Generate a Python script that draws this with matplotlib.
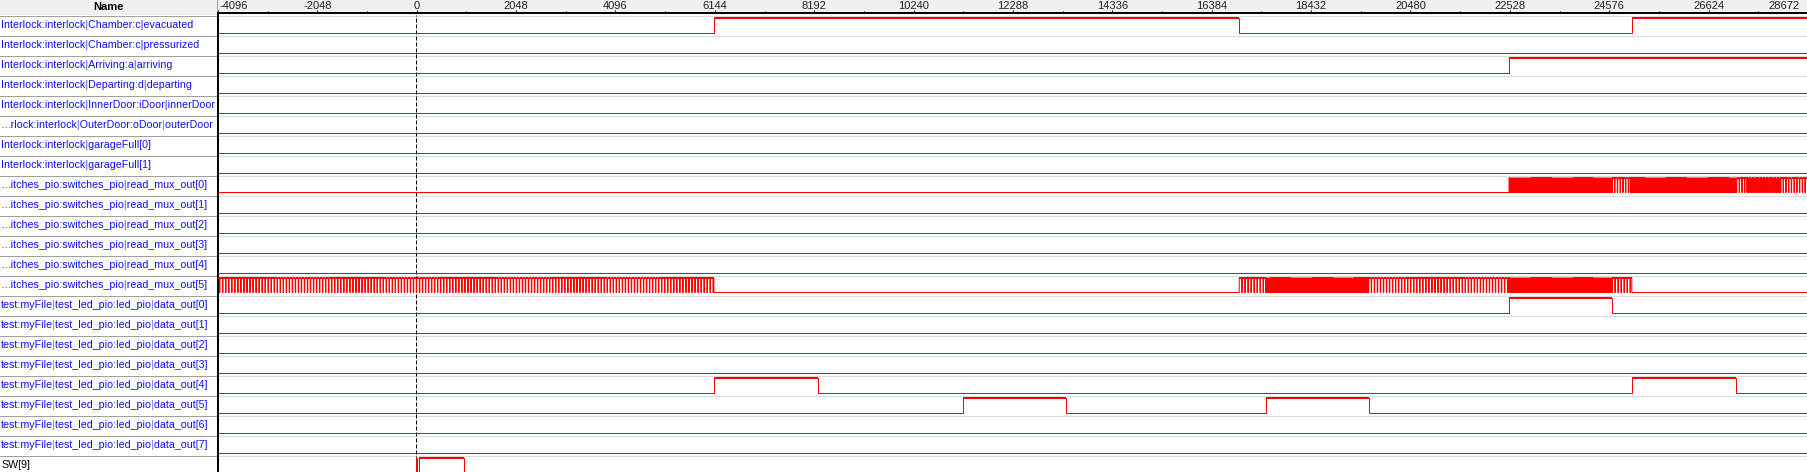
import re
import matplotlib
matplotlib.use("Agg")
import matplotlib.pyplot as plt
from matplotlib.font_manager import FontProperties
from matplotlib.patches import Rectangle
from matplotlib.transforms import IdentityTransform
import numpy as np

plt.rcParams["font.family"] = ["Liberation Sans", "DejaVu Sans"]

W_PX, H_PX, DPI = 1808, 472, 100
PX = 72 / DPI                      # one pixel in points
RED = "#FF0000"; BLUE = "#1010F0"; PIPE = "#9C9CF8"; BLACK = "#000000"
HEADER = "#F0F0F0"; GRID = "#DCDCDC"; NAME_GRID = "#A0A0A0"
LABEL_SIZE = 7.65

# ---- data -----------------------------------------------------------------
NAMES = [
    "Interlock:interlock|Chamber:c|evacuated",
    "Interlock:interlock|Chamber:c|pressurized",
    "Interlock:interlock|Arriving:a|arriving",
    "Interlock:interlock|Departing:d|departing",
    "Interlock:interlock|InnerDoor:iDoor|innerDoor",
    "\u2026rlock:interlock|OuterDoor:oDoor|outerDoor",
    "Interlock:interlock|garageFull[0]",
    "Interlock:interlock|garageFull[1]",
    "\u2026itches_pio:switches_pio|read_mux_out[0]",
    "\u2026itches_pio:switches_pio|read_mux_out[1]",
    "\u2026itches_pio:switches_pio|read_mux_out[2]",
    "\u2026itches_pio:switches_pio|read_mux_out[3]",
    "\u2026itches_pio:switches_pio|read_mux_out[4]",
    "\u2026itches_pio:switches_pio|read_mux_out[5]",
    "test:myFile|test_led_pio:led_pio|data_out[0]",
    "test:myFile|test_led_pio:led_pio|data_out[1]",
    "test:myFile|test_led_pio:led_pio|data_out[2]",
    "test:myFile|test_led_pio:led_pio|data_out[3]",
    "test:myFile|test_led_pio:led_pio|data_out[4]",
    "test:myFile|test_led_pio:led_pio|data_out[5]",
    "test:myFile|test_led_pio:led_pio|data_out[6]",
    "test:myFile|test_led_pio:led_pio|data_out[7]",
    "SW[9]",
]
PIN_ROWS = [22]                    # drawn in black, not node-blue

# toggle times (samples); every signal starts low
EVACUATED = [6100, 16860, 24900]
ARRIVING = [22385]
LED0 = [22385, 24500]
LED4 = [6100, 8230, 24900, 27030]
LED5 = [11200, 13310, 17400, 19510]
SW9 = [0, 30, 70, 983]
TOGGLES = {0: EVACUATED, 2: ARRIVING, 14: LED0, 18: LED4, 19: LED5, 22: SW9}

# (start, end, period) of the fast-toggling mux bursts
MUX0_BURSTS = [(22385, 24500, 20), (24500, 24870, 56), (24870, 27050, 20),
               (27050, 27260, 56), (27260, 27950, 32), (27950, 28700, 56)]
MUX5_BURSTS = [(-4200, 6100, 62), (16860, 17400, 62), (17400, 19510, 20),
               (19510, 22385, 62), (22385, 24500, 20), (24500, 24900, 62)]
BURSTS = {8: MUX0_BURSTS, 13: MUX5_BURSTS}
LOW_WIDTH = 10

MAJOR = np.arange(-4096, 28673, 2048)
MINOR = np.arange(-4096, 28673, 1024)
XLIM = (-4055, 28508)
T_START, T_END = -4200, 28700

ROW_H = 20                          # px per signal row
TOP_PX = 15                         # header height
HIGH, LOW = 0.15, 0.875             # levels within a row (row units)


def fx(px):
    return px / W_PX


def fy(px):
    return px / H_PX


def high_intervals(row):
    if row in TOGGLES:
        e = list(TOGGLES[row])
        if len(e) % 2:
            e.append(T_END)
        return list(zip(e[0::2], e[1::2]))
    out = []
    for a, b, p in BURSTS.get(row, []):
        for s in np.arange(a, b, p):
            out.append((s, min(s + p - LOW_WIDTH, b)))
    return out


fig = plt.figure(figsize=(W_PX / DPI, H_PX / DPI), dpi=DPI)
fig.patch.set_facecolor("white")
renderer = fig.canvas.get_renderer()
fp = FontProperties(family=["Liberation Sans"], size=LABEL_SIZE)
n_vis = (H_PX - TOP_PX) / ROW_H


def text_px(s):
    w, _, _ = renderer.get_text_width_height_descent(s, fp, ismath=False)
    return w


# name header
ax_nh = fig.add_axes([0, 1 - fy(TOP_PX), fx(217), fy(TOP_PX)])
ax_nh.set_facecolor(HEADER)
ax_nh.set_xticks([]); ax_nh.set_yticks([])
for k, s in ax_nh.spines.items():
    s.set_visible(k == "right")
ax_nh.spines["right"].set_color(NAME_GRID); ax_nh.spines["right"].set_linewidth(PX)
ax_nh.text(0.5, 0.5, "Name", ha="center", va="center", fontsize=8, fontweight="bold")

# time-axis header
ax_h = fig.add_axes([fx(218), 1 - fy(13), fx(W_PX - 218), fy(13)])
ax_h.set_facecolor(HEADER)
ax_h.set_xlim(XLIM); ax_h.set_ylim(0, 1)
for k in ("top", "left", "right"):
    ax_h.spines[k].set_visible(False)
ax_h.spines["bottom"].set_linewidth(2 * PX)
ax_h.set_xticks(MAJOR); ax_h.set_xticks(MINOR, minor=True); ax_h.set_yticks([])
ax_h.tick_params(axis="x", which="major", direction="in", length=3 * PX, width=PX,
                 labelbottom=False)
ax_h.tick_params(axis="x", which="minor", direction="in", length=2 * PX, width=PX)
for t in MAJOR:
    if t < XLIM[0]:
        x, ha = XLIM[0], "left"
    elif t > XLIM[1]:
        x, ha = XLIM[1], "right"
    else:
        x, ha = t, "center"
    ax_h.text(x, 0.3, str(t), ha=ha, va="baseline", fontsize=8, color="#202020")

# name column
ax_n = fig.add_axes([0, 0, fx(217), fy(H_PX - TOP_PX)])
ax_n.set_xlim(0, 217); ax_n.set_ylim(n_vis, 0)
ax_n.axis("off")
for i, name in enumerate(NAMES):
    ax_n.axhline(i + 0.025, color=NAME_GRID, lw=PX)
    col = BLACK if i in PIN_ROWS else BLUE
    txt = ax_n.text(1, i + 0.52, name, va="center", ha="left", fontproperties=fp,
                    color=col)
    ext = txt.get_window_extent(renderer)
    # lighter "|" separators: redraw the label in the pipe colour, clipped to each bar
    for m in re.finditer(r"\|", name):
        xp = ext.x0 + text_px(name[:m.start()])
        over = ax_n.text(1, i + 0.52, name, va="center", ha="left",
                         fontproperties=fp, color=PIPE)
        clip = Rectangle((xp + 0.3, ext.y0 - 3), 2.2, ext.height + 6,
                         transform=IdentityTransform())
        over.set_clip_on(True)
        over.set_clip_path(clip)

# waveforms
ax_w = fig.add_axes([fx(218), 0, fx(W_PX - 218), fy(H_PX - TOP_PX)])
ax_w.set_xlim(XLIM); ax_w.set_ylim(n_vis, 0)
ax_w.set_xticks([]); ax_w.set_yticks([])
for k, s in ax_w.spines.items():
    s.set_visible(k == "left")
ax_w.spines["left"].set_linewidth(2 * PX)
for i in range(len(NAMES)):
    ax_w.axhline(i + 0.025, color=GRID, lw=PX, zorder=1)
ax_w.axvline(0, color=BLACK, lw=PX, dashes=(4, 2), zorder=2)

for i in range(len(NAMES)):
    hi = high_intervals(i)
    xs, ys = [T_START], [i + LOW]
    for s, e in hi:
        xs += [s, s, e, e]
        ys += [i + LOW, i + HIGH, i + HIGH, i + LOW]
    xs.append(T_END); ys.append(i + LOW)
    ax_w.plot(xs, ys, color=RED, lw=PX, zorder=3, solid_joinstyle="miter")
    if hi:
        hi = np.array(hi)
        ax_w.hlines(np.full(len(hi), i + HIGH), hi[:, 0], hi[:, 1], color=RED,
                    lw=2 * PX, zorder=3)

fig.savefig("out.png", dpi=DPI, facecolor="white")
